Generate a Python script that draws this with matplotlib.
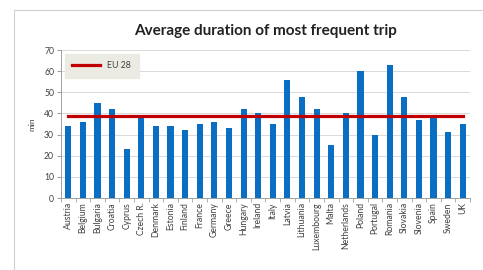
import numpy as np
import matplotlib.pyplot as plt
from matplotlib.patches import Rectangle

# ---- data ----
countries = ["Austria", "Belgium", "Bulgaria", "Croatia", "Cyprus", "Czech R.",
             "Denmark", "Estonia", "Finland", "France", "Germany", "Greece",
             "Hungary", "Ireland", "Italy", "Latvia", "Lithuania", "Luxembourg",
             "Malta", "Netherlands", "Poland", "Portugal", "Romania", "Slovakia",
             "Slovenia", "Spain", "Sweden", "UK"]
minutes = [34, 36, 45, 42, 23, 38, 34, 34, 32, 35, 36, 33,
           42, 40, 35, 56, 48, 42, 25, 40, 60, 30, 63, 48,
           37, 38, 31, 35]
eu28 = 39

plt.rcParams['font.family'] = ['Lato', 'DejaVu Sans']

fig = plt.figure(figsize=(4.83, 2.70), dpi=100)
# outer chart frame
fig.patches.append(Rectangle((14 / 483, -0.05), 1.0, 1 - 10 / 270 + 0.05,
                             transform=fig.transFigure, fill=False,
                             edgecolor="#d0d0d0", lw=0.8))

ax = fig.add_axes([61 / 483, 1 - 198 / 270, 409 / 483, 148 / 270])
x = np.arange(len(countries))
ax.bar(x, minutes, width=0.42, color="#0a6fc2", zorder=2)
ax.plot(x, [eu28] * len(x), color="#c00000", lw=2.3, zorder=3, label="EU 28")

ax.set_xlim(-0.5, len(countries) - 0.5)
ax.set_ylim(0, 70)
ax.set_yticks(range(0, 71, 10))
ax.grid(axis="y", color="#d9d9d9", lw=0.7, zorder=0)
ax.set_xticks(x)
ax.set_xticklabels(countries, rotation=90, fontsize=6.2, color="#404040")
ax.tick_params(axis="x", length=0, pad=3)
ax.set_xticks(np.arange(-0.5, len(countries), 1), minor=True)
ax.tick_params(axis="x", which="minor", length=3, color="#a0a0a0")
ax.tick_params(axis="y", labelsize=6.2, labelcolor="#404040", length=3,
               color="#a0a0a0", pad=2)
for s in ["top", "right"]:
    ax.spines[s].set_visible(False)
ax.spines["left"].set_color("#a0a0a0")
ax.spines["bottom"].set_color("#a0a0a0")
ax.spines["left"].set_linewidth(0.7)
ax.spines["bottom"].set_linewidth(0.7)

ax.set_ylabel("min", fontsize=6, color="#404040", labelpad=6)
ax.set_title("Average duration of most frequent trip", fontsize=11,
             fontweight="bold", color="#222222", pad=11)

leg = ax.legend(loc="upper left", fontsize=6.3, frameon=True, fancybox=False,
                handlelength=3.2, borderpad=0.9, bbox_to_anchor=(0.0, 1.0),
                borderaxespad=0.4)
leg.get_frame().set_facecolor("#ecebe3")
leg.get_frame().set_edgecolor("#ecebe3")
leg.get_frame().set_alpha(1)
for t in leg.get_texts():
    t.set_color("#404040")

fig.savefig("out.png", dpi=100)
